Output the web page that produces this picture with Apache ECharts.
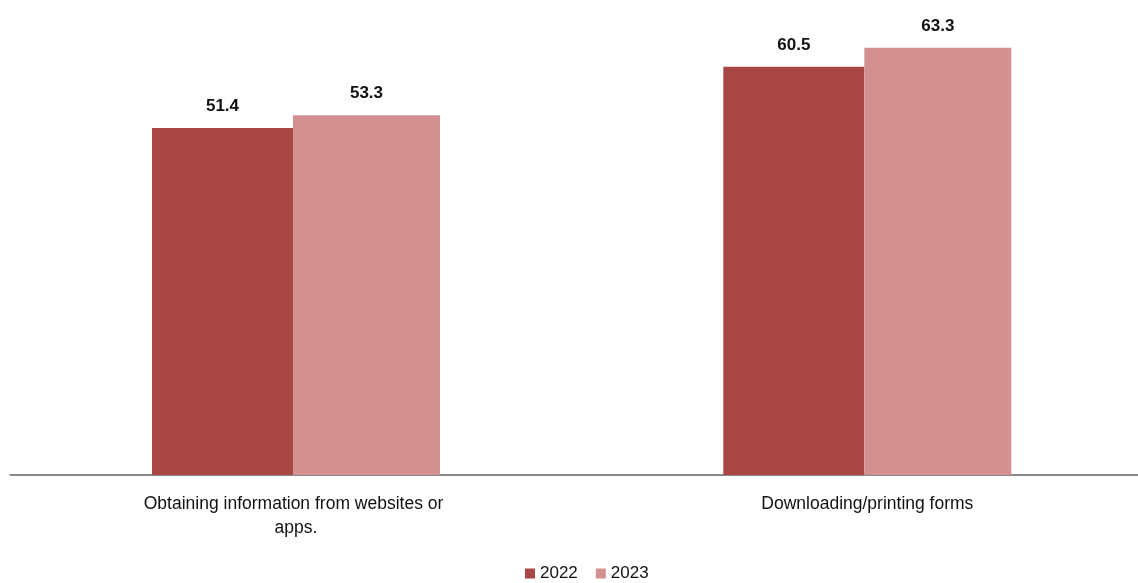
<!DOCTYPE html>
<html>
<head>
<meta charset="utf-8">
<script src="https://cdn.jsdelivr.net/npm/echarts@6/dist/echarts.min.js"></script>
<style>html,body{margin:0;padding:0;background:#fff;overflow:hidden;width:1138px;height:583px;}#c{width:1153px;height:583px;}</style>
</head>
<body>
<div id="c"></div>
<script>
var categories = ["Obtaining information from websites or apps.", "Downloading/printing forms"];
var seriesNames = ["2022", "2023"];
var values2022 = [51.4, 60.5];
var values2023 = [53.3, 63.3];
var colors = ["#a84644", "#d29190"];
var FONT = "'Liberation Sans', Arial, sans-serif";

var chart = echarts.init(document.getElementById('c'), null, {renderer: 'canvas'});
var labelCfg = {
  show: true, position: 'top', distance: 13,
  fontFamily: FONT, fontSize: 17, fontWeight: 'bold', color: '#111',
  formatter: function (p) { return p.value.toFixed(1); }
};
chart.setOption({
  animation: false,
  backgroundColor: '#fff',
  color: colors,
  grid: {left: 10.3, right: 0, top: 2.5, bottom: 108, containLabel: false},
  legend: {
    top: 560, left: 520, itemWidth: 10, itemHeight: 10, itemGap: 18,
    icon: 'rect',
    textStyle: {fontFamily: FONT, fontSize: 17, color: '#111'},
    data: seriesNames
  },
  xAxis: {
    type: 'category', data: categories,
    axisLine: {lineStyle: {color: '#8a8a8a', width: 2}},
    axisTick: {show: false},
    axisLabel: {
      fontFamily: FONT, fontSize: 17.5, color: '#111', margin: 17,
      width: 310, overflow: 'break', lineHeight: 24, interval: 0
    }
  },
  yAxis: {type: 'value', min: 0, max: 70, show: false, splitLine: {show: false}},
  series: [
    {name: seriesNames[0], type: 'bar', data: values2022, barWidth: 141, barGap: '0%', label: labelCfg},
    {name: seriesNames[1], type: 'bar', data: values2023, barWidth: 147, barGap: '0%', label: labelCfg}
  ]
});
</script>
</body>
</html>
